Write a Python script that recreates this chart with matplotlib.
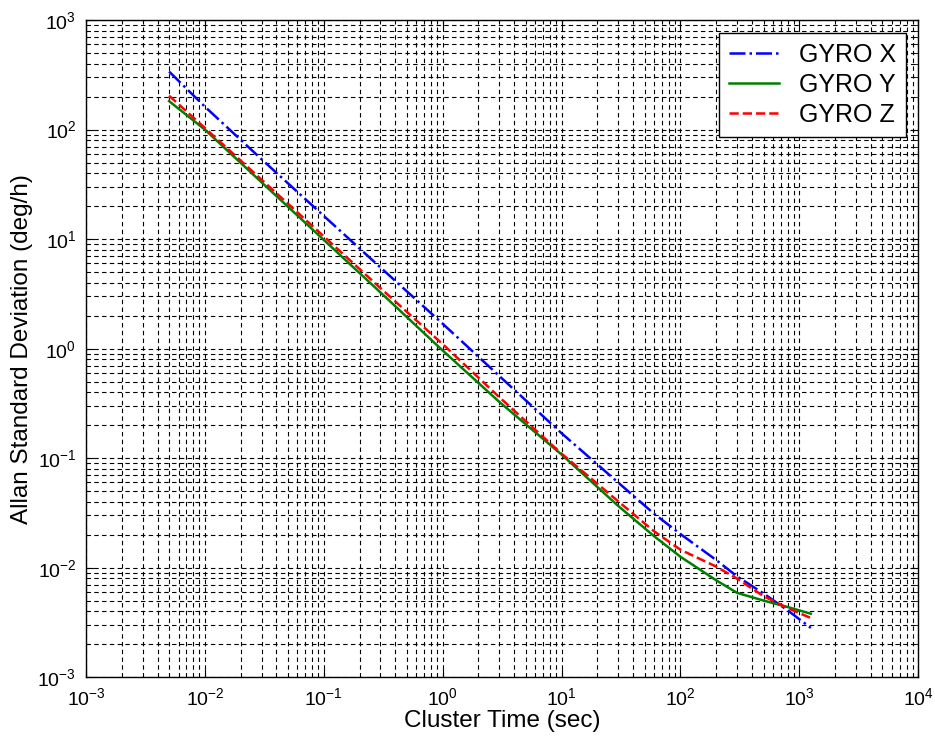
import numpy as np
import matplotlib
matplotlib.use("Agg")
import matplotlib.pyplot as plt
from matplotlib.ticker import NullFormatter

plt.rcParams['font.family'] = ['Liberation Sans', 'DejaVu Sans']
plt.rcParams['mathtext.default'] = 'regular'
plt.rcParams['axes.unicode_minus'] = False

# cluster time (sec)
tau = [0.005, 0.01, 0.03, 0.1, 0.3, 1, 3, 10, 30, 60, 100, 200, 300, 500, 800, 1250]

# allan deviation (deg/h)
gyro_x = [339, 162, 53.6, 16.3, 5.51, 1.69, 0.562, 0.169, 0.0598, 0.0311,
          0.0203, 0.01175, 0.00832, 0.00582, 0.00407, 0.00282]
gyro_y = [182, 100, 33.0, 9.84, 3.26, 0.962, 0.326, 0.108, 0.0366, 0.0194,
          0.01259, 0.00767, 0.00589, 0.00501, 0.00437, 0.0038]
gyro_z = [204, 103.5, 34.9, 10.6, 3.57, 1.10, 0.360, 0.110, 0.0403, 0.0215,
          0.01459, 0.01023, 0.00794, 0.0055, 0.00427, 0.00347]

fig = plt.figure(figsize=(9.35, 7.45), dpi=100)
ax = fig.add_axes([0.092, 0.091, 0.890, 0.882])

ax.loglog(tau, gyro_x, color='#0000ff', ls='-.', lw=1.8, label='GYRO X')
ax.loglog(tau, gyro_y, color='#008000', ls='-', lw=1.8, label='GYRO Y')
ax.loglog(tau, gyro_z, color='#ff0000', ls='--', lw=1.8, label='GYRO Z')

ax.set_xlim(1e-3, 1e4)
ax.set_ylim(1e-3, 1e3)
ax.xaxis.set_minor_formatter(NullFormatter())
ax.yaxis.set_minor_formatter(NullFormatter())

ax.grid(True, which='both', color='black', ls=(0, (4, 3)), lw=0.8)
ax.tick_params(which='both', direction='in', top=True, right=True, labelsize=14)
ax.tick_params(axis='x', which='major', pad=7)
ax.tick_params(axis='y', which='major', pad=7)
ax.tick_params(which='major', length=6)
ax.tick_params(which='minor', length=3)
for s in ax.spines.values():
    s.set_linewidth(1.0)

ax.set_xlabel('Cluster Time (sec)', fontsize=17.5, labelpad=1)
ax.set_ylabel('Allan Standard Deviation (deg/h)', fontsize=17.5, labelpad=3)

leg = ax.legend(loc='upper right', fontsize=18, fancybox=False, framealpha=1,
                edgecolor='black', handlelength=2.0, borderaxespad=0.5,
                labelspacing=0.25, handletextpad=0.8)
leg.get_frame().set_linewidth(1.0)

fig.savefig('out.png', dpi=100)
